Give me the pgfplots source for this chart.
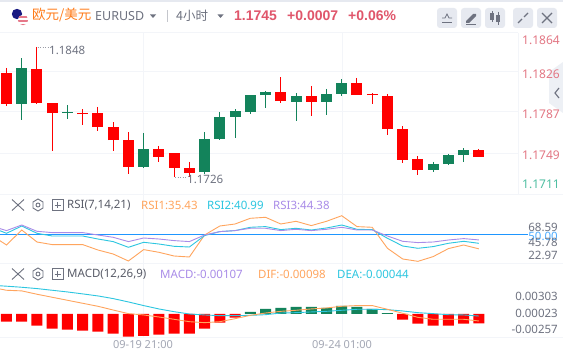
\documentclass[border=0pt]{standalone}
\usepackage{pgfplots}
\pgfplotsset{compat=1.18}
\usepackage{fontspec}
\setmainfont{Noto Sans}
\newfontfamily\cjk{Noto Sans CJK SC}
\newfontfamily\hb{Liberation Sans}
\definecolor{cred}{HTML}{FF0000}
\definecolor{cgreen}{HTML}{13835B}
\definecolor{grid}{HTML}{F3F5F9}
\definecolor{hdrred}{HTML}{E0566B}
\definecolor{pxred}{HTML}{E37784}
\definecolor{pxgreen}{HTML}{4FBFA2}
\definecolor{txt}{HTML}{6E7280}
\definecolor{timec}{HTML}{A3A7B4}
\definecolor{rsia}{HTML}{FFA55E}
\definecolor{rsib}{HTML}{2CC6E0}
\definecolor{rsic}{HTML}{A98CE8}
\definecolor{btn}{HTML}{E6E9F0}
\definecolor{blueln}{HTML}{1E96FF}
\newcommand{\candle}[6]{%
  \addplot[#2,line width=1pt] coordinates {(#1,#5)(#1,#6)};
  \addplot[#2,line width=11pt] coordinates {(#1,#4)(#1,#3)};
}
\newcommand{\tl}[5]{\node[anchor=west,inner sep=0pt,text=#3,font=#4] at (#1,{357-#2}) {#5};}
\newcommand{\tr}[5]{\node[anchor=east,inner sep=0pt,text=#3,font=#4] at (#1,{357-#2}) {#5};}
\newcommand{\tc}[5]{\node[anchor=center,inner sep=0pt,text=#3,font=#4] at (#1,{357-#2}) {#5};}
\newcommand{\pane}[1]{%
  \draw[txt,line width=0.9pt] (12,{357-#1+5.5}) -- (24,{357-#1-5.5}) (12,{357-#1-5.5}) -- (24,{357-#1+5.5});
  \draw[txt,line width=0.9pt] (38,{357-#1+6}) -- (43,{357-#1+3}) -- (43,{357-#1-3}) -- (38,{357-#1-6}) -- (33,{357-#1-3}) -- (33,{357-#1+3}) -- cycle;
  \draw[txt,line width=0.9pt] (38,{357-#1}) circle (2);
  \draw[txt,line width=0.8pt] (52,{357-#1-5.5}) rectangle (63,{357-#1+5.5});
  \draw[txt,line width=0.8pt] (54.5,{357-#1}) -- (60.5,{357-#1}) (57.5,{357-#1-3}) -- (57.5,{357-#1+3});
}
\pgfplotsset{pn/.style={hide axis,scale only axis,width=563pt,xmin=-0.4265,xmax=36.52,no markers,clip=true,anchor=south west}}
\begin{document}
\begin{tikzpicture}[x=1pt,y=1pt]
\path[use as bounding box,fill=white] (0,0) rectangle (563,357);
\fill[btn] (0,355) rectangle (563,357);
% frame lines
\draw[grid,line width=1pt] (0,{357-33}) -- (518,{357-33});
\draw[grid,line width=1pt] (0,{357-72}) -- (518,{357-72});
\draw[grid,line width=1pt] (0,{357-112}) -- (518,{357-112});
\draw[grid,line width=1pt] (0,{357-153}) -- (518,{357-153});
\draw[grid,line width=1pt] (0,{357-194}) -- (563,{357-194});
\draw[grid,line width=1pt] (0,{357-263}) -- (563,{357-263});
\draw[grid,line width=1pt] (0,{357-337}) -- (563,{357-337});
\draw[grid,line width=1pt] (143,{357-33}) -- (143,{357-337});
\draw[grid,line width=1pt] (342,{357-33}) -- (342,{357-337});
\draw[grid,line width=1pt] (518,{357-33}) -- (518,{357-194});
% side tab
\fill[btn!70] (563,{357-62}) -- (549,{357-72}) -- (549,{357-103}) -- (563,{357-113}) -- cycle;
\draw[txt,line width=1.1pt] (559,{357-88}) -- (555,{357-93}) -- (559,{357-98});
% price pane
\begin{axis}[pn,at={(0pt,164pt)},height=160pt,ymin=1.17125,ymax=1.18626]
\candle{0}{cred}{1.18251}{1.17960}{1.18298}{1.17941}
\candle{1}{cgreen}{1.18298}{1.17960}{1.18391}{1.17810}
\candle{2}{cred}{1.18288}{1.17969}{1.18495}{1.17960}
\candle{3}{cred}{1.17969}{1.17875}{1.17969}{1.17519}
\candle{4}{cgreen}{1.17885}{1.17875}{1.17950}{1.17819}
\candle{5}{cred}{1.17875}{1.17866}{1.17913}{1.17763}
\candle{6}{cred}{1.17875}{1.17744}{1.17932}{1.17707}
\candle{7}{cred}{1.17744}{1.17622}{1.17791}{1.17519}
\candle{8}{cred}{1.17622}{1.17369}{1.17697}{1.17303}
\candle{9}{cgreen}{1.17538}{1.17369}{1.17688}{1.17360}
\candle{10}{cred}{1.17538}{1.17463}{1.17566}{1.17416}
\candle{11}{cred}{1.17500}{1.17360}{1.17500}{1.17275}
\candle{12}{cred}{1.17360}{1.17313}{1.17416}{1.17275}
\candle{13}{cgreen}{1.17632}{1.17322}{1.17697}{1.17303}
\candle{14}{cgreen}{1.17838}{1.17632}{1.17885}{1.17622}
\candle{15}{cgreen}{1.17894}{1.17838}{1.17913}{1.17641}
\candle{16}{cgreen}{1.18044}{1.17885}{1.18044}{1.17866}
\candle{17}{cgreen}{1.18072}{1.18044}{1.18082}{1.17922}
\candle{18}{cred}{1.18072}{1.17988}{1.18213}{1.17969}
\candle{19}{cgreen}{1.18035}{1.17979}{1.18063}{1.17800}
\candle{20}{cred}{1.18035}{1.17979}{1.18129}{1.17847}
\candle{21}{cgreen}{1.18054}{1.17979}{1.18101}{1.17857}
\candle{22}{cgreen}{1.18157}{1.18054}{1.18194}{1.18035}
\candle{23}{cred}{1.18157}{1.18044}{1.18204}{1.18044}
\candle{24}{cred}{1.18054}{1.18044}{1.18063}{1.17960}
\candle{25}{cred}{1.18035}{1.17725}{1.18054}{1.17669}
\candle{26}{cred}{1.17725}{1.17435}{1.17753}{1.17406}
\candle{27}{cred}{1.17444}{1.17341}{1.17472}{1.17294}
\candle{28}{cgreen}{1.17397}{1.17341}{1.17416}{1.17322}
\candle{29}{cgreen}{1.17481}{1.17397}{1.17491}{1.17388}
\candle{30}{cgreen}{1.17528}{1.17481}{1.17547}{1.17416}
\candle{31}{cred}{1.17528}{1.17463}{1.17538}{1.17463}
\end{axis}
% RSI pane
\begin{axis}[pn,at={(0pt,94pt)},height=69pt,ymin=21.3,ymax=90.3]
\addplot[blueln,line width=1pt] coordinates {(-1,50)(34.22,50)};
\addplot[rsia,line width=0.9pt] table[x=x,y=y] {
x y
-1 49.3
0 39.3
1 54.3
2 42.3
3 39.7
4 39.7
5 39.7
6 34.3
7 30.3
8 23.3
9 34.7
10 32.0
11 28.3
12 27.3
13 49.3
14 58.3
15 60.3
16 66.0
17 67.0
18 60.3
19 63.0
20 58.7
21 63.0
22 68.59
23 57.7
24 57.0
25 36.0
26 25.3
27 22.97
28 27.7
29 35.7
30 39.3
31 35.43
};
\addplot[rsib,line width=0.9pt] table[x=x,y=y] {
x y
-1 57.0
0 51.0
1 58.3
2 51.0
3 48.3
4 48.3
5 48.3
6 45.3
7 42.7
8 37.0
9 42.0
10 40.3
11 38.0
12 37.3
13 48.7
14 52.7
15 53.7
16 57.0
17 57.7
18 54.7
19 56.0
20 54.3
21 56.3
22 59.3
23 55.0
24 54.7
25 46.0
26 38.3
27 36.0
28 37.7
29 41.0
30 43.0
31 40.99
};
\addplot[rsic,line width=0.9pt] table[x=x,y=y] {
x y
-1 58.3
0 53.7
1 59.3
2 53.0
3 51.7
4 51.7
5 51.7
6 49.3
7 47.0
8 42.7
9 46.3
10 45.3
11 43.7
12 42.7
13 49.3
14 52.7
15 53.7
16 56.0
17 56.0
18 53.7
19 55.0
20 53.7
21 55.0
22 57.0
23 54.3
24 54.3
25 48.3
26 43.0
27 41.7
28 42.3
29 44.3
30 45.7
31 44.38
};
\end{axis}
% MACD pane
\begin{axis}[pn,at={(0pt,20pt)},height=74pt,ymin=-0.0026,ymax=0.00576]
\addplot[ybar,bar width=11pt,bar shift=0pt,draw=none,fill=cred] coordinates {
(0,-0.00087)(1,-0.00087)(2,-0.00132)(3,-0.00166)(4,-0.00178)(5,-0.00189)(6,-0.00200)(7,-0.00223)(8,-0.00257)(9,-0.00246)(10,-0.00234)(11,-0.00223)(12,-0.00223)(13,-0.00166)(14,-0.00098)(15,-0.00042)(26,-0.00064)(27,-0.00110)(28,-0.00132)(29,-0.00132)(30,-0.00110)(31,-0.00107)};
\addplot[ybar,bar width=11pt,bar shift=0pt,draw=none,fill=cgreen] coordinates {
(16,0.00023)(17,0.00057)(18,0.00068)(19,0.00079)(20,0.00079)(21,0.00068)(22,0.00091)(23,0.00079)(24,0.00057)(25,0.00011)};
\addplot[rsib,line width=0.9pt] table[x=x,y=y] {
x y
-1 0.00325
0 0.00314
1 0.00302
2 0.00287
3 0.00268
4 0.00249
5 0.00227
6 0.00204
7 0.00174
8 0.00136
9 0.00095
10 0.00057
11 0.00026
12 0.00000
13 -0.00011
14 -0.00019
15 -0.00019
16 -0.00015
17 -0.00008
18 0.00011
19 0.00015
20 0.00023
21 0.00030
22 0.00042
23 0.00053
24 0.00053
25 0.00049
26 0.00034
27 0.00015
28 0.00004
29 -0.00008
30 -0.00011
31 -0.00023
};
\addplot[rsia,line width=0.9pt] table[x=x,y=y] {
x y
-1 0.00302
0 0.00268
1 0.00261
2 0.00223
3 0.00189
4 0.00155
5 0.00121
6 0.00087
7 0.00045
8 0.00004
9 -0.00011
10 -0.00034
11 -0.00060
12 -0.00087
13 -0.00098
14 -0.00087
15 -0.00053
16 -0.00015
17 0.00011
18 0.00030
19 0.00042
20 0.00057
21 0.00068
22 0.00087
23 0.00095
24 0.00095
25 0.00053
26 0.00008
27 -0.00038
28 -0.00060
29 -0.00060
30 -0.00060
31 -0.00079
};
\end{axis}
% header
\fill[blue!45!black!90] (17,{357-14}) circle (5.2);
\fill[white] (23,{357-20}) circle (5.2);
\begin{scope}
\clip (23,{357-20}) circle (5.2);
\fill[hdrred!80] (17,{357-16}) rectangle (29,{357-18});
\fill[hdrred!80] (17,{357-20}) rectangle (29,{357-22});
\fill[hdrred!80] (17,{357-24}) rectangle (29,{357-26});
\end{scope}
\tl{32}{15.5}{orange!85!red!90}{\fontsize{13.5}{14}\cjk}{欧元/美元}
\tl{95}{16}{txt}{\fontsize{12.5}{14}\selectfont}{EURUSD}
\fill[txt] (150,{357-14.5}) -- (156,{357-14.5}) -- (153,{357-18}) -- cycle;
\draw[btn!85!black,line width=0.8pt] (167,{357-10}) -- (167,{357-22});
\tl{176}{15.5}{txt}{\fontsize{12.5}{14}\cjk}{4小时}
\fill[txt] (217.5,{357-14.5}) -- (223.5,{357-14.5}) -- (220.5,{357-18}) -- cycle;
\tl{234}{15.5}{hdrred}{\fontsize{14}{15}\hb\bfseries}{1.1745}
\tl{287}{15.5}{hdrred}{\fontsize{14}{15}\hb\bfseries}{+0.0007}
\tl{348}{15.5}{hdrred}{\fontsize{14}{15}\hb\bfseries}{+0.06\%}
\foreach \bx in {437,461,485,513,537}{\fill[btn,rounded corners=3pt] (\bx,{357-8}) rectangle ({\bx+20},{357-28});}
% button icons
\draw[txt,line width=0.8pt] (442,{357-22}) -- (452,{357-22});
\draw[txt,line width=0.8pt] (442,{357-18}) -- (445,{357-18}) -- (447,{357-14}) -- (449,{357-18}) -- (452,{357-18});
\fill[txt] (466,{357-21}) -- (473,{357-14}) -- (476,{357-14}) -- (476,{357-16}) -- (469,{357-23}) -- (466,{357-23}) -- cycle;
\draw[txt,line width=0.8pt] (466,{357-24}) -- (476,{357-24});
\fill[txt] (490,{357-13}) rectangle (494,{357-20});
\fill[txt] (496,{357-15}) rectangle (500,{357-22});
\draw[txt,line width=0.8pt] (492,{357-11}) -- (492,{357-22}) (498,{357-12}) -- (498,{357-25});
\draw[txt,line width=1.1pt] (518,{357-23}) -- (522,{357-19}) (528,{357-13}) -- (524,{357-17});
\draw[txt,line width=1.1pt] (542,{357-13}) -- (552,{357-23}) (552,{357-13}) -- (542,{357-23});
% price labels
\tl{522}{40}{pxred}{\fontsize{12}{14}\selectfont}{1.1864}
\tl{522}{74.5}{pxred}{\fontsize{12}{14}\selectfont}{1.1826}
\tl{522}{114}{pxred}{\fontsize{12}{14}\selectfont}{1.1787}
\tl{522}{155}{pxred}{\fontsize{12}{14}\selectfont}{1.1749}
\tl{522}{184.5}{pxgreen}{\fontsize{12}{14}\selectfont}{1.1711}
% annotations
\draw[txt!70,line width=0.7pt,dash pattern=on 1pt off 1.5pt] (37.5,{357-47}) -- (48,{357-47});
\tl{49}{50.5}{txt}{\fontsize{11.5}{13}\selectfont}{1.1848}
\draw[txt!70,line width=0.7pt,dash pattern=on 1pt off 1.5pt] (175,{357-177}) -- (186,{357-177});
\tl{187}{179.5}{txt}{\fontsize{11.5}{13}\selectfont}{1.1726}
% RSI header
\pane{205}
\tl{67}{205.5}{txt!80!black}{\fontsize{11.5}{13}\selectfont}{RSI(7,14,21)}
\tl{141}{205.5}{rsia}{\fontsize{11.5}{13}\selectfont}{RSI1:35.43}
\tl{207}{205.5}{rsib}{\fontsize{11.5}{13}\selectfont}{RSI2:40.99}
\tl{273}{205.5}{rsic}{\fontsize{11.5}{13}\selectfont}{RSI3:44.38}
\tr{558}{227}{txt}{\fontsize{11.5}{13}\selectfont}{68.59}
\tr{558}{236}{blueln!80}{\fontsize{11.5}{13}\selectfont}{50.00}
\tr{558}{242.5}{txt}{\fontsize{11.5}{13}\selectfont}{45.78}
\tr{558}{255}{txt}{\fontsize{11.5}{13}\selectfont}{22.97}
% MACD header
\pane{274}
\tl{67}{274.5}{txt!80!black}{\fontsize{11.5}{13}\selectfont}{MACD(12,26,9)}
\tl{160}{274.5}{rsic}{\fontsize{11.5}{13}\selectfont}{MACD:-0.00107}
\tl{258}{274.5}{rsia}{\fontsize{11.5}{13}\selectfont}{DIF:-0.00098}
\tl{337}{274.5}{rsib}{\fontsize{11.5}{13}\selectfont}{DEA:-0.00044}
\tr{558}{296.5}{txt}{\fontsize{11.5}{13}\selectfont}{0.00303}
\tr{558}{313}{txt}{\fontsize{11.5}{13}\selectfont}{0.00023}
\tr{558}{329}{txt}{\fontsize{11.5}{13}\selectfont}{-0.00257}
\tc{143}{345}{timec}{\fontsize{11}{13}\selectfont}{09-19 21:00}
\tc{342}{345}{timec}{\fontsize{11}{13}\selectfont}{09-24 01:00}
\end{tikzpicture}
\end{document}
